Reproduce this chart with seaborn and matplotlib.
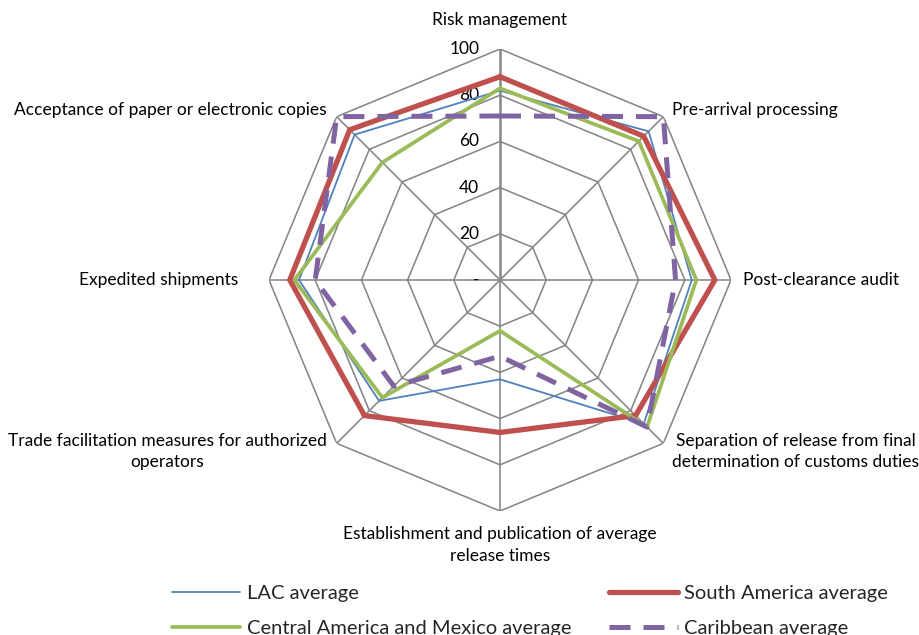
import numpy as np
import pandas as pd
import matplotlib
matplotlib.use("Agg")
import matplotlib.pyplot as plt
import seaborn as sns

# categories (clockwise from the top)
categories = ["Risk management",
              "Pre-arrival processing",
              "Post-clearance audit",
              "Separation of release from final\ndetermination of customs duties",
              "Establishment and publication of average\nrelease times",
              "Trade facilitation measures for authorized\noperators",
              "Expedited shipments",
              "Acceptance of paper or electronic copies"]

lac = [82, 91, 83, 88, 43, 74, 87, 89]
south_america = [88, 88, 93, 83, 66, 83, 91, 92]
central_america = [83, 85, 85, 90, 22, 72, 89, 72]
caribbean = [71, 100, 76, 90, 33, 65, 80, 100]

rings = [0, 20, 40, 60, 80, 100]
ring_labels = ["-", "20", "40", "60", "80", "100"]

df = pd.DataFrame({"category": categories,
                   "LAC average": lac,
                   "South America average": south_america,
                   "Central America and Mexico average": central_america,
                   "Caribbean average": caribbean})

sns.set_theme(style="white")
plt.rcParams['font.family'] = ['Lato', 'DejaVu Sans']

fig = plt.figure(figsize=(9.19, 6.35), dpi=100)
ax = fig.add_axes([269 / 919, (355 - 231) / 635, 462 / 919, 462 / 635], projection='polar')
ax.set_theta_offset(np.pi / 2)
ax.set_theta_direction(-1)
ax.set_ylim(0, 100)
ax.axis('off')

n = len(categories)
angles = np.arange(n) * 2 * np.pi / n
closed = np.append(angles, angles[0])

grid_color = "#868686"
# octagon rings
for r in rings[1:]:
    ax.plot(closed, [r] * (n + 1), color=grid_color, lw=1.15, zorder=1)
# spokes
for i, a in enumerate(angles):
    ax.plot([a, a], [0, 100], color=grid_color, lw=1.8 if i == 0 else 1.15, zorder=1)

# ring value labels
for r, lab in zip(rings, ring_labels):
    ax.annotate(lab, xy=(0, r), xytext=(-15, 0), textcoords='offset points',
                ha='right', va='center', fontsize=12.5, color='black')

# category labels: offsets in points from the outer vertex
label_fmt = [((0, 21), 'center', 'center'),
             ((6, 5), 'left', 'center'),
             ((8.5, 0), 'left', 'center'),
             ((6.5, -6), 'left', 'center'),
             ((0, -24.5), 'center', 'center'),
             ((-7, -6), 'right', 'center'),
             ((-22, 0), 'right', 'center'),
             ((-7, 5), 'right', 'center')]
for a, lab, (off, ha, va) in zip(angles, categories, label_fmt):
    ax.annotate(lab, xy=(a, 100), xytext=off, textcoords='offset points',
                ha=ha, va=va, multialignment='center', linespacing=1.4,
                fontsize=12.5, color='black')

styles = {"LAC average": dict(color="#4F81BD", lw=1.3),
          "South America average": dict(color="#C0504D", lw=3.8),
          "Central America and Mexico average": dict(color="#9BBB59", lw=2.7),
          "Caribbean average": dict(color="#8064A2", lw=3.6, dashes=(4.2, 2.6))}

handles = {}
for k, name in enumerate(styles):
    vals = df[name].tolist()
    vals = vals + vals[:1]
    line, = ax.plot(closed, vals, zorder=3 + k, solid_joinstyle='miter', **styles[name])
    handles[name] = line

order = ["LAC average", "Central America and Mexico average",
         "South America average", "Caribbean average"]
fig.legend([handles[o] for o in order], order, loc='upper left',
           bbox_to_anchor=(172 / 919, 1 - 585 / 635), ncol=2, frameon=False,
           fontsize=14.5, handlelength=3.4, handletextpad=0.3,
           columnspacing=1.9, labelspacing=0.9, borderpad=0, borderaxespad=0)

fig.savefig("out.png", dpi=100)
